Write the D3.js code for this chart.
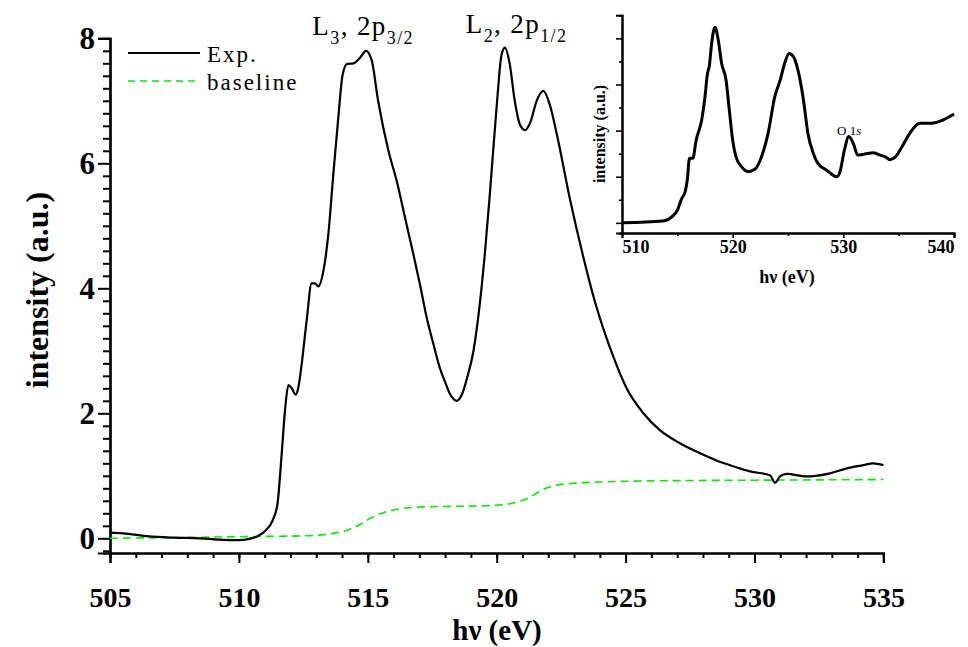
<!DOCTYPE html>
<html>
<head>
<meta charset="utf-8">
<script src="https://cdn.jsdelivr.net/npm/d3@7/dist/d3.min.js"></script>
<style>
  body { margin: 0; background: #fff; }
  svg { display: block; font-family: "Liberation Serif", "Times New Roman", serif; }
</style>
</head>
<body>
<svg id="chart" width="968" height="647"></svg>
<script>
// ---------- data ----------
const expEnergy = [505.0,505.5,506.5,507.5,508.5,509.2,510.0,510.4,510.7,511.05,511.3,511.5,511.65,511.8,511.92,512.05,512.2,512.3,512.43,512.63,512.82,512.95,513.08,513.27,513.47,513.66,513.86,514.02,514.2,514.44,514.7,514.93,515.15,515.4,515.8,516.12,516.45,516.77,517.03,517.28,517.55,517.8,518.0,518.2,518.45,518.65,518.84,519.1,519.35,519.55,519.74,520.0,520.19,520.32,520.5,520.7,520.9,521.1,521.3,521.55,521.81,522.05,522.33,522.84,523.36,523.8,524.1,524.52,525.04,525.69,526.33,527.11,527.89,528.5,529.05,529.83,530.6,530.8,530.99,531.25,532.0,532.93,533.58,534.22,534.61,535.0];
const expIntensity = [0.09,0.08,0.03,0.01,0.0,-0.02,-0.03,-0.01,0.03,0.13,0.28,0.56,1.3,2.1,2.45,2.4,2.3,2.4,2.77,3.49,4.08,4.08,4.03,4.26,4.87,5.81,6.75,7.41,7.59,7.6,7.69,7.8,7.65,7.0,6.2,5.72,5.12,4.54,4.05,3.54,3.1,2.72,2.5,2.3,2.2,2.3,2.55,3.0,3.77,4.6,5.54,6.92,7.74,7.85,7.6,7.0,6.62,6.53,6.65,7.0,7.16,6.95,6.47,5.43,4.5,3.8,3.4,2.91,2.4,2.0,1.73,1.52,1.36,1.25,1.17,1.07,1.01,0.89,0.99,1.03,0.99,1.04,1.12,1.17,1.2,1.17];

const baseEnergy = [505,507,509,511,512.5,513.5,514.2,514.7,515.1,515.6,516.2,517,518,519.5,520.3,520.8,521.3,521.7,522.2,523,524,526,530,535];
const baseIntensity = [0.0,0.01,0.02,0.03,0.04,0.07,0.13,0.22,0.32,0.41,0.47,0.5,0.51,0.52,0.54,0.58,0.66,0.76,0.84,0.88,0.9,0.92,0.93,0.94];

const insetEnergy = [510,513.7,514.5,515.0,515.4,515.7,515.9,516.1,516.4,516.7,517.2,517.5,517.7,517.9,518.1,518.4,518.7,519.0,519.4,519.7,520.0,520.3,520.8,521.4,522.0,522.6,523.2,523.8,524.3,524.7,525.1,525.5,525.9,526.4,526.8,527.3,527.7,528.5,529.4,529.7,530.1,530.5,530.9,531.3,531.9,532.7,533.3,533.8,534.2,534.7,535.3,536.0,536.9,538.0,539.0,540.0];
const insetIntensity = [0,0.04,0.13,0.27,0.53,0.67,0.93,1.40,1.40,1.79,2.23,2.73,3.20,3.42,3.89,4.24,3.96,3.46,3.10,2.44,1.79,1.43,1.22,1.11,1.16,1.43,1.94,2.73,3.10,3.46,3.67,3.60,3.31,2.66,1.94,1.50,1.29,1.14,1.00,1.11,1.58,1.87,1.72,1.47,1.49,1.52,1.47,1.43,1.37,1.43,1.65,1.94,2.16,2.16,2.23,2.36];

const mainXTicks = [505,510,515,520,525,530,535];
const mainYTicks = [0,2,4,6,8];
const insetXTicks = [510,520,530,540];

const seriesNames = ["Exp.", "baseline"];
const peakLabels = [
  {main: "L", sub1: "3", mid: ", 2p", sub2: "3/2", e: 512.85, yb: 35},
  {main: "L", sub1: "2", mid: ", 2p", sub2: "1/2", e: 518.8, yb: 33}
];

// ---------- main chart ----------
const svg = d3.select("#chart");
const x = d3.scaleLinear().domain([505, 535]).range([110, 883.4]);
const y = d3.scaleLinear().domain([-0.235, 8]).range([553, 38.3]);

const pts = expEnergy.map((e, i) => [e, expIntensity[i]]);
const bpts = baseEnergy.map((e, i) => [e, baseIntensity[i]]);

const line = d3.line().x(d => x(d[0])).y(d => y(d[1])).curve(d3.curveMonotoneX);

// axes
const xAxisMinor = d3.axisBottom(x).tickValues(d3.range(505, 536, 1)).tickSize(5).tickFormat("");
const xAxisMajor = d3.axisBottom(x).tickValues(mainXTicks).tickSize(10).tickFormat(d3.format("d"));
const gxm = svg.append("g").attr("transform", "translate(0,553)").call(xAxisMinor);
const gx = svg.append("g").attr("transform", "translate(0,553)").call(xAxisMajor);

const yMinorVals = d3.range(-0.2, 8.0001, 0.2).map(v => +v.toFixed(1)).filter(v => mainYTicks.indexOf(v) < 0);
const yAxisMinor = d3.axisLeft(y).tickValues(yMinorVals).tickSize(7).tickFormat("");
const yAxisMajor = d3.axisLeft(y).tickValues(mainYTicks).tickSize(12).tickPadding(3).tickFormat(d3.format("d"));
const gym = svg.append("g").attr("transform", "translate(110,0)").call(yAxisMinor);
const gy = svg.append("g").attr("transform", "translate(110,0)").call(yAxisMajor);

[gxm, gx, gym, gy].forEach(g => {
  g.selectAll("path.domain").attr("stroke", "#000").attr("stroke-width", 2.2);
  g.selectAll(".tick line").attr("stroke", "#000").attr("stroke-width", 2);
});
gx.selectAll(".tick text").attr("font-family", "Liberation Serif").attr("font-weight", "bold")
  .attr("font-size", 28).attr("fill", "#000").attr("y", 54).attr("dy", 0);
gy.selectAll(".tick text").attr("font-family", "Liberation Serif").attr("font-weight", "bold")
  .attr("font-size", 31).attr("fill", "#000");

// axis titles
svg.append("text").attr("x", 497).attr("y", 640).attr("text-anchor", "middle")
  .attr("font-weight", "bold").attr("font-size", 29).text("hν (eV)");
svg.append("text").attr("transform", "translate(48,290) rotate(-90)").attr("text-anchor", "middle")
  .attr("font-weight", "bold").attr("font-size", 32).text("intensity (a.u.)");

// lines
svg.append("path").datum(bpts).attr("d", line).attr("fill", "none")
  .attr("stroke", "#00ee00").attr("stroke-width", 1.6).attr("stroke-dasharray", "8,5");
svg.append("path").datum(pts).attr("d", line).attr("fill", "none")
  .attr("stroke", "#000").attr("stroke-width", 2.2).attr("stroke-linejoin", "round");

// legend
const leg = svg.append("g");
leg.append("line").attr("x1", 128).attr("x2", 200).attr("y1", 53).attr("y2", 53)
  .attr("stroke", "#000").attr("stroke-width", 2);
leg.append("line").attr("x1", 128).attr("x2", 200).attr("y1", 81).attr("y2", 81)
  .attr("stroke", "#00ee00").attr("stroke-width", 1.6).attr("stroke-dasharray", "7,5");
leg.append("text").attr("x", 207).attr("y", 62).attr("font-size", 23).attr("letter-spacing", 2).text(seriesNames[0]);
leg.append("text").attr("x", 207).attr("y", 90).attr("font-size", 23).attr("letter-spacing", 2).text(seriesNames[1]);

// peak labels
peakLabels.forEach(p => {
  const t = svg.append("text").attr("x", x(p.e)).attr("y", p.yb)
    .attr("font-size", 27).attr("letter-spacing", 1.4);
  t.append("tspan").text(p.main);
  t.append("tspan").attr("font-size", 18).attr("dy", 9).text(p.sub1);
  t.append("tspan").attr("dy", -9).text(p.mid);
  t.append("tspan").attr("font-size", 18).attr("dy", 9).text(p.sub2);
});

// ---------- inset ----------
const ix = d3.scaleLinear().domain([510, 540]).range([622, 954]);
const iy = d3.scaleLinear().domain([-0.22, 4.5]).range([233, 15.3]);
const ipts = insetEnergy.map((e, i) => [e, insetIntensity[i]]);
const iline = d3.line().x(d => ix(d[0])).y(d => iy(d[1])).curve(d3.curveMonotoneX);

const ixMinor = d3.axisBottom(ix).tickValues([515, 525, 535]).tickSize(3).tickFormat("");
const ixMajor = d3.axisBottom(ix).tickValues(insetXTicks).tickSize(5).tickFormat(d3.format("d"));
const iyMinor = d3.axisLeft(iy).tickValues([0.5, 1.5, 2.5, 3.5, 4.5]).tickSize(3).tickFormat("");
const iyMajor = d3.axisLeft(iy).tickValues([0, 1, 2, 3, 4]).tickSize(6).tickFormat("");

const gix1 = svg.append("g").attr("transform", "translate(0,233)").call(ixMinor);
const gix2 = svg.append("g").attr("transform", "translate(0,233)").call(ixMajor);
const giy1 = svg.append("g").attr("transform", "translate(622,0)").call(iyMinor);
const giy2 = svg.append("g").attr("transform", "translate(622,0)").call(iyMajor);
[gix1, gix2, giy1, giy2].forEach(g => {
  g.selectAll("path.domain").attr("stroke", "#000").attr("stroke-width", 2);
  g.selectAll(".tick line").attr("stroke", "#000").attr("stroke-width", 1.6);
});
gix2.selectAll(".tick text").attr("font-family", "Liberation Serif").attr("font-weight", "bold")
  .attr("font-size", 18).attr("fill", "#000").attr("y", 20).attr("dy", 0)
  .attr("text-anchor", (d, i) => i === 0 ? "start" : (i === insetXTicks.length - 1 ? "end" : "middle"));

svg.append("text").attr("x", 787).attr("y", 283).attr("text-anchor", "middle")
  .attr("font-weight", "bold").attr("font-size", 18).text("hν (eV)");
svg.append("text").attr("transform", "translate(605,134) rotate(-90)").attr("text-anchor", "middle")
  .attr("font-weight", "bold").attr("font-size", 16).text("intensity (a.u.)");

svg.append("path").datum(ipts).attr("d", iline).attr("fill", "none")
  .attr("stroke", "#000").attr("stroke-width", 3).attr("stroke-linejoin", "round");

const o = svg.append("text").attr("x", 837).attr("y", 135).attr("font-size", 13);
o.append("tspan").text("O 1");
o.append("tspan").attr("font-style", "italic").text("s");
</script>
</body>
</html>
